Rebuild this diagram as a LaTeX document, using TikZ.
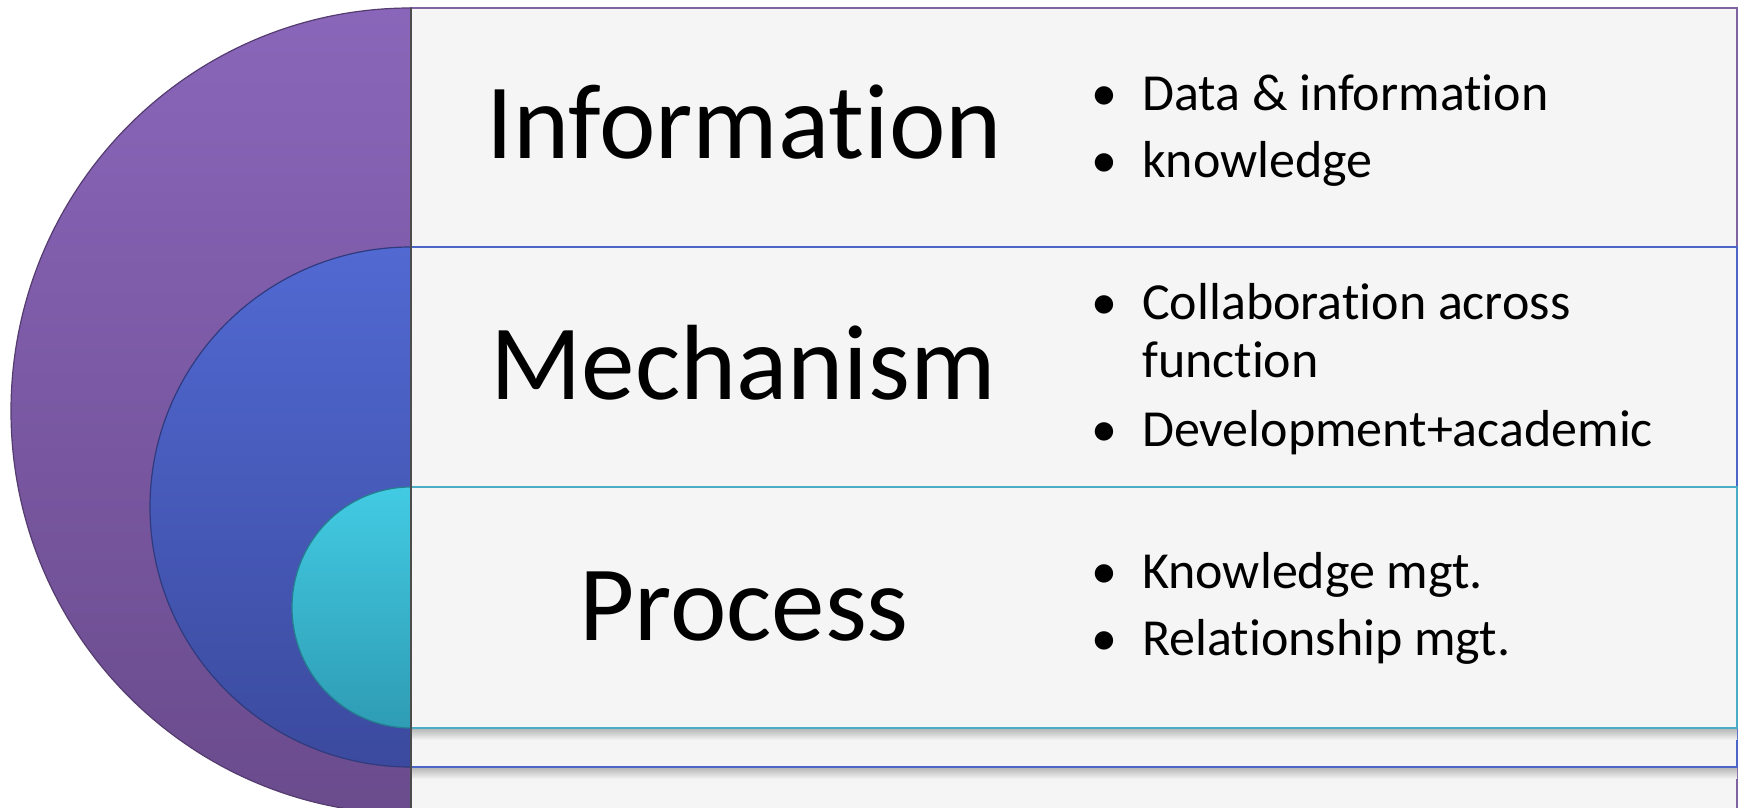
\documentclass[tikz,border=0pt]{standalone}
\usepackage{fontspec}
\setmainfont{Carlito}[Ligatures=NoCommon]
\definecolor{boxfill}{HTML}{F5F5F5}
\definecolor{purTop}{HTML}{8A66BA}
\definecolor{purBot}{HTML}{6A4B8C}
\definecolor{bluTop}{HTML}{5169D2}
\definecolor{bluBot}{HTML}{3B4A9E}
\definecolor{cyaTop}{HTML}{42CBE3}
\definecolor{cyaBot}{HTML}{2E9CB4}
\definecolor{purLine}{HTML}{8064A2}
\definecolor{bluLine}{HTML}{4A66C8}
\definecolor{cyaLine}{HTML}{4BACC6}
\newcommand{\bul}{\makebox[51pt][l]{•}}
\tikzset{
  heading/.style={anchor=base, inner sep=0pt, font=\fontsize{107}{128}\selectfont},
  item/.style={anchor=base west, inner sep=0pt, font=\fontsize{52}{62}\selectfont},
  layerbox/.style={fill=boxfill, line width=1.5pt},
  boxshadow/.style={top color=black!30, bottom color=boxfill, draw=none},
  half/.style={line width=1.2pt}
}
\begin{document}
\begin{tikzpicture}[x=1pt,y=1pt]
\useasboundingbox (0,0) rectangle (1743,808);
\fill[white] (0,0) rectangle (1743,808);
\clip (0,0) rectangle (1743,808);
% outer (purple) layer
\draw[layerbox, draw=purLine] (411,-8) rectangle (1737,800);
\shade[half, draw=purBot!80!black, top color=purTop, bottom color=purBot]
  (411,800) arc[start angle=90, end angle=270, x radius=400, y radius=403] -- cycle;
% middle (blue) layer
\shade[boxshadow] (411,29) rectangle (1737,41);
\draw[layerbox, draw=bluLine] (411,41) rectangle (1737,561);
\shade[half, draw=bluBot!80!black, top color=bluTop, bottom color=bluBot]
  (411,561) arc[start angle=90, end angle=270, x radius=261, y radius=260] -- cycle;
% inner (cyan) layer
\shade[boxshadow] (411,68) rectangle (1737,80);
\draw[layerbox, draw=cyaLine] (411,80) rectangle (1737,321);
\shade[half, draw=cyaBot!80!black, top color=cyaTop, bottom color=cyaBot]
  (411,321) arc[start angle=90, end angle=270, x radius=119, y radius=120.5] -- cycle;
\draw[line width=2pt, black!70] (411,800) -- (411,0);
% headings
\node[heading] (info) at (744,649) {Information};
\node[heading] (mech) at (743,408) {Mechanism};
\node[heading] (proc) at (744,167) {Process};
% bullet items
\node[item] (i1) at (1091,697) {\bul Data \& information};
\node[item] (i2) at (1091,630) {\bul knowledge};
\node[item] (m1) at (1091,488) {\bul Collaboration across};
\node[item] (m1b) at (1142,430) {function};
\node[item] (m2) at (1091,361) {\bul Development+academic};
\node[item] (p1) at (1091,219) {\bul Knowledge mgt.};
\node[item] (p2) at (1091,152) {\bul Relationship mgt.};
\end{tikzpicture}
\end{document}
